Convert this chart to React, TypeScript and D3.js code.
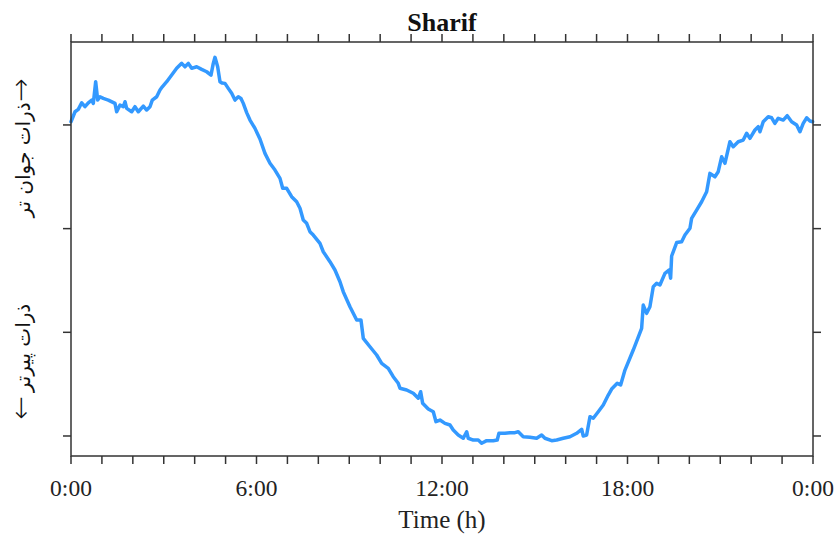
import React from "react";
import * as d3 from "d3";

// time of day in hours
const hours: number[] = [
  0.0, 0.13, 0.236, 0.346, 0.452, 0.56, 0.67, 0.722, 0.798, 0.863, 0.938, 1.044, 1.206, 1.423, 1.478,
  1.585, 1.691, 1.747, 1.801, 1.963, 2.069, 2.177, 2.339, 2.448, 2.555, 2.629, 2.772, 2.878, 2.953, 3.096,
  3.257, 3.418, 3.58, 3.687, 3.794, 3.903, 4.065, 4.227, 4.389, 4.528, 4.602, 4.657, 4.744, 4.819, 4.884,
  4.981, 5.087, 5.197, 5.304, 5.411, 5.498, 5.573, 5.682, 5.789, 5.951, 6.112, 6.274, 6.436, 6.598, 6.76,
  6.847, 6.977, 7.137, 7.299, 7.407, 7.513, 7.623, 7.729, 7.837, 8.053, 8.16, 8.376, 8.538, 8.7, 8.806,
  9.023, 9.24, 9.379, 9.454, 9.67, 9.887, 10.049, 10.262, 10.423, 10.585, 10.641, 10.857, 11.071, 11.233, 11.31,
  11.375, 11.556, 11.718, 11.805, 11.934, 12.096, 12.258, 12.364, 12.526, 12.688, 12.798, 12.849, 13.011, 13.173, 13.283,
  13.445, 13.658, 13.787, 13.842, 14.036, 14.198, 14.36, 14.467, 14.628, 14.845, 15.061, 15.223, 15.33, 15.547, 15.709,
  15.922, 16.139, 16.356, 16.517, 16.569, 16.678, 16.786, 16.892, 17.054, 17.216, 17.378, 17.487, 17.668, 17.778, 17.918,
  18.186, 18.457, 18.509, 18.619, 18.725, 18.833, 18.943, 19.049, 19.211, 19.35, 19.395, 19.428, 19.59, 19.751, 19.858,
  20.02, 20.074, 20.236, 20.398, 20.56, 20.666, 20.828, 20.934, 21.045, 21.151, 21.313, 21.42, 21.581, 21.743, 21.853,
  21.96, 22.122, 22.229, 22.284, 22.39, 22.552, 22.662, 22.768, 22.875, 23.037, 23.167, 23.309, 23.471, 23.577, 23.684,
  23.794, 23.901, 23.988,
];

// relative particle age index (higher = younger particles)
const values: number[] = [
  3.031, 3.127, 3.15, 3.214, 3.176, 3.214, 3.24, 3.208, 3.417, 3.24, 3.272, 3.256, 3.24, 3.208, 3.127,
  3.192, 3.176, 3.224, 3.16, 3.127, 3.176, 3.127, 3.182, 3.144, 3.176, 3.24, 3.272, 3.337, 3.368, 3.417,
  3.481, 3.546, 3.594, 3.561, 3.594, 3.546, 3.561, 3.536, 3.513, 3.481, 3.594, 3.652, 3.561, 3.417, 3.404,
  3.401, 3.353, 3.305, 3.24, 3.272, 3.256, 3.208, 3.119, 3.047, 2.967, 2.864, 2.726, 2.63, 2.565, 2.485,
  2.389, 2.389, 2.308, 2.259, 2.196, 2.083, 2.051, 1.97, 1.938, 1.858, 1.777, 1.681, 1.601, 1.488, 1.392,
  1.247, 1.119, 1.119, 0.942, 0.861, 0.781, 0.701, 0.653, 0.572, 0.508, 0.46, 0.444, 0.412, 0.364, 0.427,
  0.315, 0.26, 0.234, 0.138, 0.154, 0.122, 0.106, 0.058, 0.01, -0.022, 0.041, -0.022, -0.039, -0.039, -0.07,
  -0.045, -0.045, -0.039, 0.026, 0.026, 0.032, 0.032, 0.041, -0.007, -0.013, -0.022, 0.01, -0.022, -0.045, -0.039,
  -0.022, -0.007, 0.026, 0.065, 0.0, 0.01, 0.186, 0.171, 0.234, 0.299, 0.395, 0.453, 0.508, 0.492, 0.636,
  0.829, 1.039, 1.263, 1.183, 1.247, 1.44, 1.472, 1.456, 1.569, 1.601, 1.521, 1.736, 1.866, 1.874, 1.938,
  2.003, 2.099, 2.179, 2.259, 2.356, 2.533, 2.5, 2.549, 2.693, 2.63, 2.838, 2.79, 2.838, 2.854, 2.919,
  2.871, 2.951, 2.983, 2.934, 3.031, 3.079, 3.069, 3.015, 3.064, 3.047, 3.089, 3.031, 2.999, 2.934, 3.015,
  3.069, 3.038, 3.031,
];

const majorTicks: number[] = [0, 6, 12, 18, 24];
const majorLabels: string[] = ["0:00", "6:00", "12:00", "18:00", "0:00"];
const yTicks: number[] = [0, 1, 2, 3];

const title = "Sharif";
const xLabel = "Time (h)";
const yLabelUpper = "ذرات جوان تر";
const yLabelLower = "ذرات پیرتر";
const arrowUp = "→";
const arrowDown = "←";

const W = 834;
const H = 534;
const M = { left: 71, right: 813, top: 42, bottom: 456 };
const lineColor = "#3399ff";
const axisColor = "#333333";
const serif = "'Liberation Serif', 'Times New Roman', serif";
const persianFont = "'DejaVu Serif', 'DejaVu Sans', serif";
const arrowFont = "'DejaVu Sans', sans-serif";

export default function App() {
  const x = d3.scaleLinear().domain([0, 24]).range([M.left, M.right]);
  const y = d3.scaleLinear().domain([-0.193, 3.8]).range([M.bottom, M.top]);
  const pts: [number, number][] = hours.map((h, i) => [h, values[i]]);
  const line = d3
    .line<[number, number]>()
    .x((d) => x(d[0]))
    .y((d) => y(d[1]))
    .curve(d3.curveLinear);
  const hourTicks = d3.range(0, 25);
  const tl = 8;
  const cx = (M.left + M.right) / 2;

  return (
    <svg
      width={W}
      height={H}
      style={{ position: "absolute", left: 0, top: 0, background: "#fff" }}
    >
      <rect x={0} y={0} width={W} height={H} fill="#fff" />
      <path
        d={line(pts) || ""}
        fill="none"
        stroke={lineColor}
        strokeWidth={3.5}
        strokeLinejoin="round"
        strokeLinecap="round"
      />
      <rect
        x={M.left}
        y={M.top}
        width={M.right - M.left}
        height={M.bottom - M.top}
        fill="none"
        stroke={axisColor}
        strokeWidth={1.5}
      />
      {hourTicks.map((h) => (
        <g key={"xt" + h}>
          <line x1={x(h)} x2={x(h)} y1={M.bottom} y2={M.bottom + tl} stroke={axisColor} strokeWidth={1.5} />
          <line x1={x(h)} x2={x(h)} y1={M.top} y2={M.top - tl} stroke={axisColor} strokeWidth={1.5} />
        </g>
      ))}
      {yTicks.map((v) => (
        <g key={"yt" + v}>
          <line x1={M.left - tl} x2={M.left} y1={y(v)} y2={y(v)} stroke={axisColor} strokeWidth={1.5} />
          <line x1={M.right} x2={M.right + tl} y1={y(v)} y2={y(v)} stroke={axisColor} strokeWidth={1.5} />
        </g>
      ))}
      {majorTicks.map((h, i) => (
        <text
          key={"xl" + i}
          x={x(h)}
          y={496}
          textAnchor="middle"
          fontFamily={serif}
          fontSize={23.5}
          fill="#222"
        >
          {majorLabels[i]}
        </text>
      ))}
      <text x={cx} y={528} textAnchor="middle" fontFamily={serif} fontSize={25} fill="#222">
        {xLabel}
      </text>
      <text x={cx} y={31} textAnchor="middle" fontFamily={serif} fontSize={26} fontWeight="bold" fill="#111">
        {title}
      </text>
      <text
        transform={`translate(30,160) rotate(-90)`}
        textAnchor="middle"
        fontFamily={persianFont}
        fontSize={20}
        fill="#111"
      >
        {yLabelUpper}
      </text>
      <text
        transform={`translate(30,90) rotate(-90)`}
        textAnchor="middle"
        fontFamily={arrowFont}
        fontSize={28}
        fontWeight={300}
        fill="#111"
      >
        {arrowUp}
      </text>
      <text
        transform={`translate(30,348) rotate(-90)`}
        textAnchor="middle"
        fontFamily={persianFont}
        fontSize={20}
        fill="#111"
      >
        {yLabelLower}
      </text>
      <text
        transform={`translate(30,408) rotate(-90)`}
        textAnchor="middle"
        fontFamily={arrowFont}
        fontSize={28}
        fontWeight={300}
        fill="#111"
      >
        {arrowDown}
      </text>
    </svg>
  );
}
